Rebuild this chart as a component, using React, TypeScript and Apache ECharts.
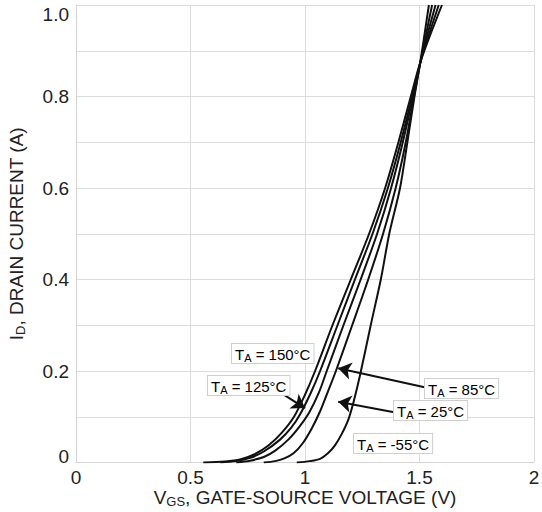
import React, { useEffect, useRef } from 'react';
import * as echarts from 'echarts';

// Tick labels
const xTickLabels = ['0', '0.5', '1', '1.5', '2'];
const yTickLabels = ['0', '0.2', '0.4', '0.6', '0.8', '1.0'];

// Curve temperatures
const temps = ['150°C', '125°C', '85°C', '25°C', '-55°C'];

// VGS (V) / ID (A) for each temperature
const vgs150 = [0.556, 0.65, 0.72, 0.78, 0.84, 0.9, 0.952, 1.0, 1.044, 1.12, 1.2, 1.28, 1.35, 1.408, 1.462, 1.507, 1.598];
const id150 = [0, 0.002, 0.007, 0.018, 0.037, 0.066, 0.1, 0.148, 0.2, 0.3, 0.4, 0.5, 0.6, 0.7, 0.8, 0.88, 1.0];

const vgs125 = [0.63, 0.7, 0.76, 0.82, 0.891, 0.94, 0.978, 1.025, 1.066, 1.142, 1.218, 1.295, 1.362, 1.418, 1.468, 1.507, 1.584];
const id125 = [0, 0.003, 0.01, 0.024, 0.05, 0.076, 0.105, 0.152, 0.2, 0.3, 0.4, 0.5, 0.6, 0.7, 0.8, 0.88, 1.0];

const vgs85 = [0.7, 0.76, 0.82, 0.87, 0.927, 0.975, 1.019, 1.06, 1.095, 1.168, 1.243, 1.315, 1.376, 1.427, 1.472, 1.506, 1.57];
const id85 = [0, 0.004, 0.012, 0.026, 0.05, 0.078, 0.11, 0.152, 0.2, 0.3, 0.4, 0.5, 0.6, 0.7, 0.8, 0.88, 1.0];

const vgs25 = [0.82, 0.87, 0.91, 0.95, 0.99, 1.03, 1.066, 1.1, 1.135, 1.206, 1.276, 1.341, 1.396, 1.44, 1.476, 1.506, 1.555];
const id25 = [0, 0.003, 0.009, 0.02, 0.042, 0.075, 0.112, 0.155, 0.2, 0.3, 0.4, 0.5, 0.6, 0.7, 0.8, 0.88, 1.0];

const vgsM55 = [0.964, 1.02, 1.066, 1.1, 1.13, 1.16, 1.19, 1.215, 1.24, 1.287, 1.331, 1.368, 1.415, 1.447, 1.478, 1.505, 1.541];
const idM55 = [0, 0.003, 0.008, 0.02, 0.037, 0.062, 0.095, 0.138, 0.19, 0.3, 0.4, 0.5, 0.6, 0.7, 0.8, 0.88, 1.0];

const curves = [
  { v: vgs150, i: id150 },
  { v: vgs125, i: id125 },
  { v: vgs85, i: id85 },
  { v: vgs25, i: id25 },
  { v: vgsM55, i: idM55 },
];

// Arrow annotations in data coordinates: [tail, tip]
const arrows: number[][][] = [
  [[0.876, 0.158], [1.0, 0.119]],
  [[1.537, 0.163], [1.145, 0.206]],
  [[1.389, 0.11], [1.145, 0.133]],
];

// Label boxes (pixel positions)
const labelPos = [
  [232, 344],
  [208, 376],
  [425, 379],
  [394, 401],
  [354, 434],
];

const TEXT = '#222';
const FONT = 'Liberation Sans, Arial, sans-serif';

export default function App() {
  const ref = useRef<HTMLDivElement>(null);
  useEffect(() => {
    if (!ref.current) return;
    const chart = echarts.init(ref.current, null, { renderer: 'svg' });
    const series: any[] = curves.map((c, k) => ({
      type: 'line',
      name: temps[k],
      data: c.v.map((x, j) => [x, c.i[j]]),
      showSymbol: false,
      smooth: 0.3,
      lineStyle: { color: '#111', width: 2 },
      z: 3,
    }));
    series[0].markLine = {
      silent: true,
      symbol: ['none', 'arrow'],
      symbolSize: 13,
      label: { show: false },
      lineStyle: { color: '#111', width: 2, type: 'solid' },
      data: arrows.map(([a, b]) => [
        { coord: a },
        { coord: b },
      ]),
    };
    const rich = {
      m: { fontSize: 15, fontFamily: FONT, color: TEXT, lineHeight: 18 },
      s: { fontSize: 11, fontFamily: FONT, color: TEXT, lineHeight: 10, verticalAlign: 'bottom' },
    };
    chart.setOption({
      animation: false,
      backgroundColor: '#fff',
      textStyle: { fontFamily: FONT },
      grid: { left: 76, right: 8, top: 5, bottom: 49.5, containLabel: false, outerBoundsMode: 'none' },
      xAxis: {
        type: 'value',
        min: 0,
        max: 2,
        interval: 0.5,
        name: '{b|V}{s|GS}{b|, GATE-SOURCE VOLTAGE (V)}',
        nameLocation: 'middle',
        nameGap: 25,
        nameMoveOverlap: false,
        nameTextStyle: {
          rich: {
            b: { fontSize: 19, fontFamily: FONT, color: TEXT, lineHeight: 20 },
            s: { fontSize: 13, fontFamily: FONT, color: TEXT, lineHeight: 11, verticalAlign: 'bottom' },
          },
        },
        axisLine: { show: true, lineStyle: { color: '#d4d4d4', width: 1 } },
        axisTick: { show: false },
        axisLabel: {
          fontSize: 19,
          lineHeight: 18,
          color: TEXT,
          margin: 6,
          formatter: (v: number) => xTickLabels[Math.round(v / 0.5)] ?? '',
        },
        splitLine: { show: true, lineStyle: { color: '#dcdcdc', width: 1 } },
      },
      yAxis: {
        type: 'value',
        min: 0,
        max: 1,
        interval: 0.1,
        name: '{b|I}{s|D}{b|, DRAIN CURRENT (A)}',
        nameLocation: 'middle',
        nameRotate: 90,
        nameGap: 49,
        nameMoveOverlap: false,
        nameTextStyle: {
          rich: {
            b: { fontSize: 19, fontFamily: FONT, color: TEXT, lineHeight: 22 },
            s: { fontSize: 13, fontFamily: FONT, color: TEXT, lineHeight: 12, verticalAlign: 'bottom' },
          },
        },
        axisLine: { show: true, lineStyle: { color: '#d4d4d4', width: 1 } },
        axisTick: { show: false },
        axisLabel: {
          fontSize: 19,
          color: TEXT,
          margin: 7,
          verticalAlignMaxLabel: 'top',
          verticalAlignMinLabel: 'bottom',
          rich: { z: { fontSize: 19, color: TEXT, lineHeight: 12, fontFamily: FONT } },
          formatter: (v: number) => {
            const k = Math.round(v * 10);
            if (k === 0) return `{z|${yTickLabels[0]}}`;
            return k % 2 === 0 ? yTickLabels[k / 2] : '';
          },
        },
        splitLine: { show: true, lineStyle: { color: '#dcdcdc', width: 1 } },
      },
      graphic: temps.map((t, k) => ({
        type: 'text',
        x: labelPos[k][0],
        y: labelPos[k][1],
        z: 10,
        style: {
          text: `{m|T}{s|A}{m| = ${t}}`,
          rich,
          backgroundColor: '#fff',
          borderColor: '#cfcfcf',
          borderWidth: 1,
          padding: [1, 3, 0, 3],
        },
      })),
      series,
    });
    return () => chart.dispose();
  }, []);
  return (
    <div
      ref={ref}
      style={{ position: 'fixed', left: 0, top: 0, width: 542, height: 512 }}
    />
  );
}
